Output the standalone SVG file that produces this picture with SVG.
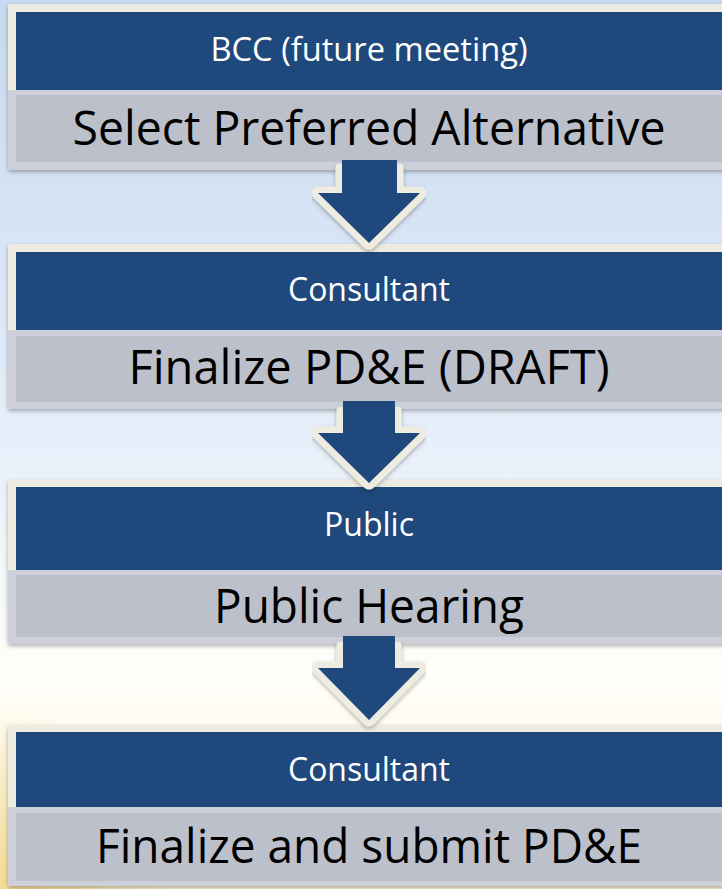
<svg xmlns="http://www.w3.org/2000/svg" width="722" height="889" viewBox="0 0 722 889">
  <defs>
    <linearGradient id="bg" x1="0" y1="0" x2="0" y2="1">
      <stop offset="0" stop-color="#C7D9F0"/>
      <stop offset="0.5" stop-color="#E7EFFA"/>
      <stop offset="0.76" stop-color="#FFFEF9"/>
      <stop offset="1" stop-color="#FCF2D2"/>
    </linearGradient>
    <radialGradient id="yl" cx="0" cy="889" r="180" gradientUnits="userSpaceOnUse">
      <stop offset="0" stop-color="#F2D98F" stop-opacity="0.9"/>
      <stop offset="1" stop-color="#F2D98F" stop-opacity="0"/>
    </radialGradient>
    <filter id="sh" x="-5%" y="-5%" width="110%" height="120%">
      <feDropShadow dx="0" dy="2" stdDeviation="2" flood-color="#000" flood-opacity="0.3"/>
    </filter>
  </defs>
  <style>
    .cream { fill: #EEECE1; }
    .blue { fill: #1F497D; }
    .gout { fill: #CDD0D9; }
    .gin { fill: #BCC0CB; }
    .hdr { font-family: "Open Sans", "Liberation Sans", sans-serif; font-size: 32px; fill: #FFFFFF; text-anchor: middle; }
    .main { font-family: "Open Sans", "Liberation Sans", sans-serif; font-size: 48px; fill: #000000; text-anchor: middle; }
    .aout { fill: #EEECE1; stroke: #EEECE1; stroke-width: 13; stroke-linejoin: round; }
  </style>

  <rect x="0" y="0" width="722" height="889" fill="url(#bg)"/>
  <rect x="0" y="0" width="722" height="889" fill="url(#yl)"/>

  <g id="node1">
    <rect class="cream" x="8" y="4" width="724" height="166" rx="3" filter="url(#sh)"/>
    <rect class="blue" x="16" y="12" width="716" height="78"/>
    <rect class="gout" x="8" y="90" width="724" height="80" rx="2"/>
    <rect class="gin" x="16" y="95" width="716" height="67"/>
    <text class="hdr" x="369" y="61" textLength="317" lengthAdjust="spacingAndGlyphs">BCC (future meeting)</text>
    <text class="main" x="369" y="145" textLength="593" lengthAdjust="spacingAndGlyphs">Select Preferred Alternative</text>
  </g>

  <g id="node2">
    <rect class="cream" x="8" y="244" width="724" height="165" rx="3" filter="url(#sh)"/>
    <rect class="blue" x="16" y="252" width="716" height="78"/>
    <rect class="gout" x="8" y="330" width="724" height="79" rx="2"/>
    <rect class="gin" x="16" y="336" width="716" height="66"/>
    <text class="hdr" x="369" y="301" textLength="162" lengthAdjust="spacingAndGlyphs">Consultant</text>
    <text class="main" x="369" y="384" textLength="481" lengthAdjust="spacingAndGlyphs">Finalize PD&amp;E (DRAFT)</text>
  </g>

  <g id="node3">
    <rect class="cream" x="8" y="480" width="724" height="164" rx="3" filter="url(#sh)"/>
    <rect class="blue" x="16" y="487" width="716" height="83"/>
    <rect class="gout" x="8" y="570" width="724" height="74" rx="2"/>
    <rect class="gin" x="16" y="575" width="716" height="62"/>
    <text class="hdr" x="369" y="536" textLength="90" lengthAdjust="spacingAndGlyphs">Public</text>
    <text class="main" x="369" y="623" textLength="310" lengthAdjust="spacingAndGlyphs">Public Hearing</text>
  </g>

  <g id="node4">
    <rect class="cream" x="8" y="725" width="724" height="161" rx="3" filter="url(#sh)"/>
    <rect class="blue" x="16" y="732" width="716" height="75"/>
    <rect class="gout" x="8" y="807" width="724" height="79" rx="2"/>
    <rect class="gin" x="16" y="813" width="716" height="68"/>
    <text class="hdr" x="369" y="781" textLength="162" lengthAdjust="spacingAndGlyphs">Consultant</text>
    <text class="main" x="369" y="863" textLength="546" lengthAdjust="spacingAndGlyphs">Finalize and submit PD&amp;E</text>
  </g>

  <g id="connectors">
    <g filter="url(#sh)">
      <polygon class="aout" points="342,168 397,168 397,193 420,193 369,243 318,193 342,193"/>
    </g>
    <polygon class="blue" points="342,160 397,160 397,193 420,193 369,243 318,193 342,193"/>

    <g filter="url(#sh)">
      <polygon class="aout" points="343,411 395,411 395,433 420,433 369,483 318,433 343,433"/>
    </g>
    <polygon class="blue" points="343,401 395,401 395,433 420,433 369,483 318,433 343,433"/>

    <g filter="url(#sh)">
      <polygon class="aout" points="343,646 395,646 395,668 420,668 369,720 318,668 343,668"/>
    </g>
    <polygon class="blue" points="343,636 395,636 395,668 420,668 369,720 318,668 343,668"/>
  </g>
</svg>
